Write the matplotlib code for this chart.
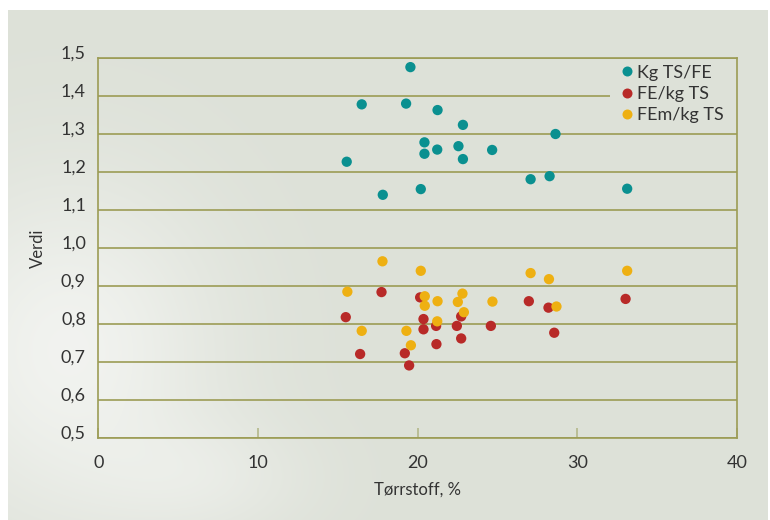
import numpy as np
import matplotlib
matplotlib.use("Agg")
import matplotlib.pyplot as plt
from matplotlib.ticker import FuncFormatter, MultipleLocator
from matplotlib.transforms import ScaledTranslation
from matplotlib.lines import Line2D

# Data (Tørrstoff %, value)
kg_ts_fe_x = [15.55, 16.49, 17.81, 19.27, 19.54, 20.19, 20.42, 20.42, 21.22,
              21.24, 22.55, 22.83, 22.83, 24.66, 27.07, 28.26, 28.63, 33.12]
kg_ts_fe_y = [1.227, 1.378, 1.140, 1.380, 1.476, 1.155, 1.278, 1.248, 1.259,
              1.363, 1.268, 1.324, 1.234, 1.258, 1.181, 1.189, 1.300, 1.156]

fe_kg_ts_x = [15.49, 16.39, 17.73, 19.19, 19.46, 20.15, 20.36, 20.36, 21.15,
              21.17, 22.45, 22.72, 22.72, 24.58, 26.96, 28.19, 28.55, 33.02]
fe_kg_ts_y = [0.818, 0.721, 0.884, 0.723, 0.691, 0.870, 0.813, 0.786, 0.795,
              0.747, 0.795, 0.820, 0.762, 0.795, 0.860, 0.843, 0.777, 0.866]

fem_kg_ts_x = [15.59, 16.49, 17.79, 19.29, 19.57, 20.19, 20.44, 20.44, 21.24,
               21.22, 22.51, 22.80, 22.89, 24.68, 27.07, 28.22, 28.69, 33.12]
fem_kg_ts_y = [0.885, 0.782, 0.965, 0.782, 0.744, 0.940, 0.873, 0.848, 0.860,
               0.807, 0.858, 0.880, 0.831, 0.859, 0.934, 0.918, 0.846, 0.940]

series_labels = ["Kg TS/FE", "FE/kg TS", "FEm/kg TS"]
series_colors = ["#0a9090", "#b82a28", "#eeb012"]

plt.rcParams['font.family'] = ['Lato', 'DejaVu Sans']

W, H = 770, 520
fig = plt.figure(figsize=(W / 100, H / 100), dpi=100, facecolor="white")

bg_hex = "#dde1d8"
base = np.array([221, 225, 216]) / 255.0

# background panel with soft glow at lower left
bg_ax = fig.add_axes([8 / W, 0, 760 / W, 510 / H])
bg_ax.set_axis_off()
ny, nx = 510, 760
yy, xx = np.mgrid[0:ny, 0:nx]
d1 = ((xx - 60) / 150.0) ** 2 + ((yy - 340) / 170.0) ** 2
d2 = ((xx - 200) / 110.0) ** 2 + ((yy - 470) / 60.0) ** 2
w = 0.6 * np.exp(-d1) + 0.25 * np.exp(-d2)
w = np.clip(w, 0, 0.7)[..., None]
img = base * (1 - w) + np.ones(3) * w
bg_ax.imshow(img, aspect='auto', extent=[0, 1, 0, 1], origin='upper')
bg_ax.set_xlim(0, 1)
bg_ax.set_ylim(0, 1)

ax = fig.add_axes([98.5 / W, (H - 438) / H, (737 - 98.5) / W, (438 - 58) / H])
ax.patch.set_alpha(0)

olive = "#9c9c55"
for sp in ax.spines.values():
    sp.set_color(olive)
    sp.set_linewidth(1.2)

ax.set_xlim(0, 40)
ax.set_ylim(0.5, 1.5)
ax.xaxis.set_major_locator(MultipleLocator(10))
ax.yaxis.set_major_locator(MultipleLocator(0.1))
ax.yaxis.set_major_formatter(FuncFormatter(lambda v, p: f"{v:.1f}".replace('.', ',')))
ax.xaxis.set_major_formatter(FuncFormatter(lambda v, p: f"{v:.0f}"))

ax.set_axisbelow(True)
ax.grid(axis='y', color=olive, linewidth=1.2)
ax.grid(axis='x', visible=False)

ax.tick_params(axis='y', length=0, pad=9, labelsize=13, labelcolor="#333333")
ax.tick_params(axis='x', direction='in', length=7, width=1.2, color="#b4b88a",
               pad=12, labelsize=13, labelcolor="#333333")

for lab in ax.get_yticklabels():
    lab.set_transform(lab.get_transform() + ScaledTranslation(0, 6 / 100, fig.dpi_scale_trans))

ax.set_xlabel("Tørrstoff, %", fontsize=12, color="#333333", labelpad=8)
ax.set_ylabel("Verdi", fontsize=12, color="#333333", labelpad=11)

xs = [kg_ts_fe_x, fe_kg_ts_x, fem_kg_ts_x]
ys = [kg_ts_fe_y, fe_kg_ts_y, fem_kg_ts_y]
for x, y, c in zip(xs, ys, series_colors):
    ax.scatter(x, y, s=55, color=c, edgecolors='none', zorder=3, clip_on=False)

handles = [Line2D([], [], marker='o', linestyle='none', markersize=7.2,
                  markerfacecolor=c, markeredgecolor='none') for c in series_colors]
x0 = (610 - 98.5) / 638.5
leg = ax.legend(handles, series_labels, loc='upper left',
                bbox_to_anchor=(x0, 0.992, 1 - x0, 0.0), mode='expand',
                frameon=True, facecolor=bg_hex, edgecolor='none', framealpha=1,
                fontsize=13, handlelength=1.5, handletextpad=-0.2,
                labelspacing=0.3, borderpad=0.2, borderaxespad=0)
leg.get_frame().set_boxstyle('square', pad=0)
for t in leg.get_texts():
    t.set_color("#333333")
leg.set_zorder(2)

fig.savefig("out.png", dpi=100, facecolor="white")
